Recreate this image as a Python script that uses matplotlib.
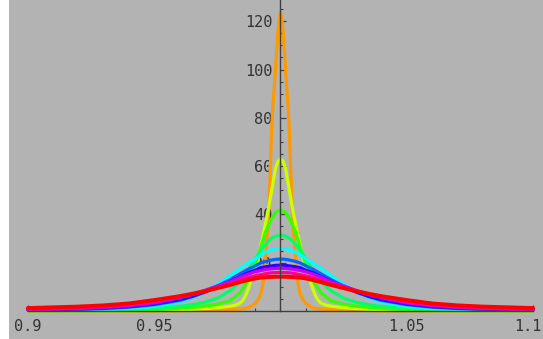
import matplotlib
matplotlib.use("Agg")
import matplotlib.pyplot as plt
from matplotlib.patches import Rectangle
import matplotlib.ticker as ticker
import matplotlib.transforms as mtransforms
import numpy as np

# Daten
x_orange = [0.900, 0.930, 0.950, 0.960, 0.970, 0.978, 0.982, 0.985, 0.987, 0.988, 0.989,
            0.990, 0.991, 0.992, 0.9925, 0.993, 0.9935, 0.994, 0.9945, 0.995, 0.9955,
            0.996, 0.9965, 0.997, 0.9975, 0.998, 0.9985, 0.999, 0.9995, 1.000,
            1.0005, 1.001, 1.0015, 1.002, 1.0025, 1.003, 1.0035, 1.004, 1.0045, 1.005,
            1.0055, 1.006, 1.0065, 1.007, 1.0075, 1.008, 1.009, 1.010, 1.011, 1.012,
            1.013, 1.015, 1.018, 1.022, 1.030, 1.040, 1.050, 1.070, 1.100]
y_orange = [0.0, 0.0, 0.05, 0.15, 0.35, 0.6, 0.7, 0.9, 1.3, 1.8, 2.4,
            3.2, 4.5, 6.5, 8.5, 11, 15, 21, 28, 36, 45,
            60, 75, 85, 92, 100, 108, 116, 121, 124,
            121, 116, 108, 100, 92, 85, 75, 60, 45, 36,
            28, 21, 15, 11, 8.5, 6.5, 4.5, 3.2, 2.4, 1.8,
            1.3, 0.9, 0.7, 0.6, 0.35, 0.15, 0.05, 0.0, 0.0]

x_yellow = [0.900, 0.920, 0.940, 0.950, 0.960, 0.965, 0.970, 0.974, 0.977, 0.980, 0.982,
            0.984, 0.985, 0.986, 0.987, 0.988, 0.989, 0.990, 0.991, 0.992, 0.993,
            0.994, 0.995, 0.996, 0.997, 0.998, 0.999, 1.000, 1.001, 1.002, 1.003,
            1.004, 1.005, 1.006, 1.007, 1.008, 1.009, 1.010, 1.011, 1.012, 1.013,
            1.014, 1.015, 1.016, 1.018, 1.020, 1.023, 1.026, 1.030, 1.035, 1.040,
            1.050, 1.060, 1.080, 1.100]
y_yellow = [0.0, 0.05, 0.15, 0.3, 0.5, 0.7, 1.0, 1.3, 1.6, 2.0, 2.4,
            3.3, 4.3, 6.0, 8.5, 11.6, 14, 17, 21, 26, 31,
            36, 41, 47, 53, 59, 62, 63, 62, 59, 53,
            47, 41, 36, 31, 26, 21, 17, 14, 11.6, 8.5,
            6.0, 4.3, 3.3, 2.4, 2.0, 1.6, 1.3, 1.0, 0.7, 0.5,
            0.3, 0.15, 0.05, 0.0]

x_grid = [0.900, 0.910, 0.920, 0.930, 0.940, 0.950, 0.960, 0.965, 0.970, 0.975,
          0.980, 0.984, 0.987, 0.990, 0.992, 0.994, 0.996, 0.998, 1.000,
          1.002, 1.004, 1.006, 1.008, 1.010, 1.013, 1.016, 1.020, 1.025,
          1.030, 1.035, 1.040, 1.050, 1.060, 1.070, 1.080, 1.090, 1.100]

y_green = [0.05, 0.07, 0.1, 0.2, 0.35, 0.6, 1.1, 1.5, 2.0, 2.8,
           4.2, 7.5, 12.5, 19.5, 25.6, 32.5, 37.3, 40.8, 42.0,
           40.8, 37.3, 32.5, 25.6, 19.5, 12.5, 7.5, 4.2, 2.8,
           2.0, 1.5, 1.1, 0.6, 0.35, 0.2, 0.1, 0.07, 0.05]
y_spring = [0.15, 0.2, 0.3, 0.45, 0.7, 1.1, 1.9, 2.6, 3.6, 5.3,
            8.3, 12.3, 16.5, 21.6, 24.8, 27.6, 29.7, 31.0, 31.5,
            31.0, 29.7, 27.6, 24.8, 21.6, 16.5, 12.3, 8.3, 5.3,
            3.6, 2.6, 1.9, 1.1, 0.7, 0.45, 0.3, 0.2, 0.15]
y_cyan = [0.25, 0.35, 0.5, 0.7, 1.1, 1.9, 3.7, 5.4, 8.0, 11.0,
          14.6, 17.6, 19.8, 21.6, 23.1, 24.3, 25.2, 25.8, 26.0,
          25.8, 25.2, 24.3, 23.1, 21.6, 19.8, 17.6, 14.6, 11.0,
          8.0, 5.4, 3.7, 1.9, 1.1, 0.7, 0.5, 0.35, 0.25]
y_azure = [0.4, 0.55, 0.75, 1.0, 1.6, 2.6, 4.4, 5.9, 7.8, 10.3,
           13.0, 15.4, 17.2, 18.7, 19.8, 20.5, 21.0, 21.4, 21.5,
           21.4, 21.0, 20.5, 19.8, 18.7, 17.2, 15.4, 13.0, 10.3,
           7.8, 5.9, 4.4, 2.6, 1.6, 1.0, 0.75, 0.55, 0.4]
y_violet = [0.45, 0.6, 0.8, 1.2, 1.8, 2.9, 4.7, 6.1, 7.9, 9.9,
            12.3, 14.2, 15.8, 16.9, 17.9, 18.3, 18.6, 18.9, 19.0,
            18.9, 18.6, 18.3, 17.9, 16.9, 15.8, 14.2, 12.3, 9.9,
            7.9, 6.1, 4.7, 2.9, 1.8, 1.2, 0.8, 0.6, 0.45]
y_purple = [0.55, 0.75, 1.0, 1.5, 2.2, 3.4, 5.5, 6.8, 8.5, 10.4,
            12.1, 14.0, 15.2, 16.2, 16.7, 17.1, 17.4, 17.6, 17.7,
            17.6, 17.4, 17.1, 16.7, 16.2, 15.2, 14.0, 12.1, 10.4,
            8.5, 6.8, 5.5, 3.4, 2.2, 1.5, 1.0, 0.75, 0.55]
y_magenta = [0.7, 0.95, 1.3, 1.8, 2.6, 3.7, 5.9, 6.9, 8.2, 9.8,
             11.4, 12.8, 13.8, 14.6, 15.0, 15.4, 15.8, 15.9, 16.0,
             15.9, 15.8, 15.4, 15.0, 14.6, 13.8, 12.8, 11.4, 9.8,
             8.2, 6.9, 5.9, 3.7, 2.6, 1.8, 1.3, 0.95, 0.7]
y_red = [1.2, 1.5, 1.8, 2.3, 3.1, 4.5, 6.1, 7.1, 8.2, 9.5,
         10.8, 12.0, 12.8, 13.5, 13.8, 14.0, 14.1, 14.2, 14.2,
         14.2, 14.1, 14.0, 13.8, 13.5, 12.8, 12.0, 10.8, 9.5,
         8.2, 7.1, 6.1, 4.5, 3.1, 2.3, 1.8, 1.5, 1.2]

kurven = [
    (x_orange, y_orange, "#ff9900"),
    (x_yellow, y_yellow, "#ccff00"),
    (x_grid, y_green, "#33ff00"),
    (x_grid, y_spring, "#00ff66"),
    (x_grid, y_cyan, "#00ffff"),
    (x_grid, y_azure, "#0066ff"),
    (x_grid, y_violet, "#3300ff"),
    (x_grid, y_purple, "#cc00ff"),
    (x_grid, y_magenta, "#ff0099"),
    (x_grid, y_red, "#ff0000"),
]

x_ticks = [0.9, 0.95, 1.05, 1.1]
x_ticklabels = ["0.9", "0.95", "1.05", "1.1"]
y_ticks = [20, 40, 60, 80, 100, 120]

grau = "#b3b3b3"
achse = "#404040"

fig = plt.figure(figsize=(5.43, 3.39), dpi=100, facecolor=grau)
fig.patches.append(Rectangle((0, 0), 9 / 543, 1, transform=fig.transFigure,
                             facecolor="white", edgecolor="none", zorder=0))
ax = fig.add_axes([9 / 543, 0, 534 / 543, 1])
ax.set_facecolor(grau)

for i, (xs, ys, farbe) in enumerate(kurven):
    lw = 2.9 if i == len(kurven) - 1 else 2.3
    ax.plot(xs, ys, color=farbe, linewidth=lw, solid_joinstyle="round",
            solid_capstyle="round", zorder=2 + i * 0.01)

# Achsen wie bei Mathematica: Ursprung bei (1, 0)
ax.set_xlim(1 - 271.5 / 2526, 1 + 262.5 / 2526)
ax.set_ylim(-28 / 2.415, 311 / 2.415)

for s in ["top", "right"]:
    ax.spines[s].set_visible(False)
ax.spines["left"].set_position(("data", 1.0))
ax.spines["bottom"].set_position(("data", 0.0))
ax.spines["left"].set_bounds(0, 311 / 2.415)
ax.spines["bottom"].set_bounds(0.9, 1.1)
for s in ["left", "bottom"]:
    ax.spines[s].set_color(achse)
    ax.spines[s].set_linewidth(1.0)
    ax.spines[s].set_zorder(3)

ax.set_xticks(x_ticks)
ax.set_xticklabels(x_ticklabels)
x_minor = [round(v, 2) for v in np.arange(0.91, 1.095, 0.01) if abs(round(v, 2) - 1.05) > 1e-6]
ax.xaxis.set_minor_locator(ticker.FixedLocator(x_minor))
ax.set_yticks(y_ticks)
y_minor = [v for v in range(5, 130, 5) if v % 20 != 0]
ax.yaxis.set_minor_locator(ticker.FixedLocator(y_minor))

ax.tick_params(axis="both", which="major", direction="in", length=4, width=0.9,
               color=achse, labelcolor="#333333", labelsize=11)
ax.tick_params(axis="both", which="minor", direction="in", length=2.5, width=0.8,
               color=achse)
ax.tick_params(axis="x", which="major", pad=6)
ax.tick_params(axis="y", which="major", pad=6)
for lab in ax.get_xticklabels() + ax.get_yticklabels():
    lab.set_family("DejaVu Sans Mono")

# letztes Label etwas nach links, damit es nicht abgeschnitten wird
letzte = ax.get_xticklabels()[-1]
letzte.set_transform(letzte.get_transform() +
                     mtransforms.ScaledTranslation(-5 / 100, 0, fig.dpi_scale_trans))

plt.savefig("out.png", dpi=100, facecolor=grau)
